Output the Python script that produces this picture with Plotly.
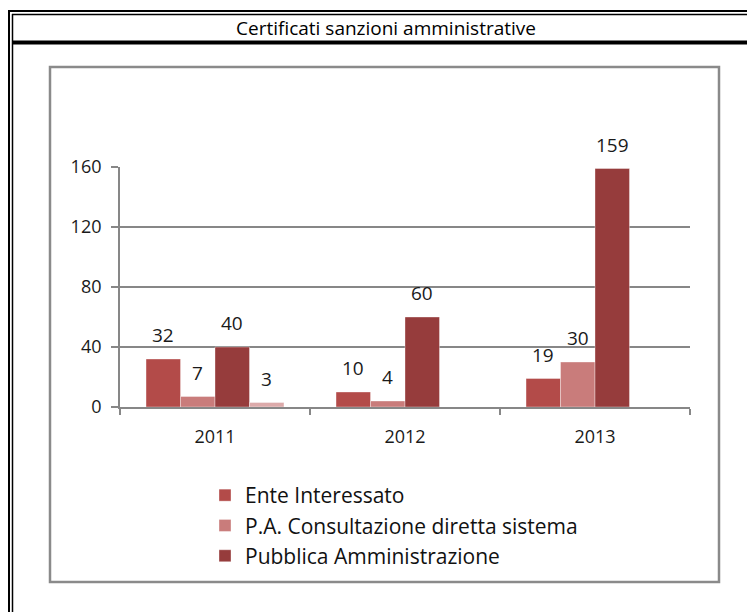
import plotly.graph_objects as go

# ---- data ----
years = ["2011", "2012", "2013"]
series_names = ["Ente Interessato", "P.A. Consultazione diretta sistema", "Pubblica Amministrazione", ""]
ente = [32, 10, 19]
pa_consult = [7, 4, 30]
pubblica = [40, 60, 159]
extra = [3, None, None]
series_values = [ente, pa_consult, pubblica, extra]
colors = ["#b34b49", "#c97c7b", "#963c3c", "#dcaaaa"]
y_ticks = [0, 40, 80, 120, 160]
title_text = "Certificati sanzioni amministrative"

# ---- layout geometry (page pixels; the page body has an 8px margin) ----
OFF = 8
W, H = 755, 612 - OFF
L, R, T, B = 120, 690, 167, 407  # plot area in page coordinates
FONT = "Open Sans"
BARGAP = 0.274


def fx(px):
    return (px - L) / (R - L)


def fy(py):
    return (B - py) / (B - T)


fig = go.Figure()
for k, (name, vals, col) in enumerate(zip(series_names, series_values, colors)):
    fig.add_trace(go.Bar(
        x=years, y=vals, name=name, marker_color=col,
        marker_line=dict(color="rgba(255,255,255,0.6)", width=0.6),
        showlegend=(k < 3),
    ))

# data labels via annotations positioned on category index + group offset
n = len(series_values)
bw = (1 - BARGAP) / n
annotations = []
for k, vals in enumerate(series_values):
    for i, v in enumerate(vals):
        if v is None:
            continue
        annotations.append(dict(
            x=i + (k - (n - 1) / 2) * bw, y=v, xref="x", yref="y",
            text=str(v), showarrow=False, yanchor="bottom", yshift=9,
            font=dict(family=FONT, size=19, color="#1a1a1a"),
        ))

annotations.append(dict(
    x=fx(386), y=fy(28), xref="paper", yref="paper", text=title_text,
    showarrow=False, xanchor="center", yanchor="middle",
    font=dict(family=FONT, size=19, color="#000000"),
))

blk = "#000000"
shapes = [
    dict(type="line", xref="paper", yref="paper", x0=fx(8), x1=fx(780), y0=fy(11), y1=fy(11), line=dict(color=blk, width=2)),
    dict(type="line", xref="paper", yref="paper", x0=fx(12), x1=fx(780), y0=fy(14.5), y1=fy(14.5), line=dict(color=blk, width=1.5)),
    dict(type="line", xref="paper", yref="paper", x0=fx(9), x1=fx(9), y0=fy(10), y1=fy(630), line=dict(color=blk, width=2)),
    dict(type="line", xref="paper", yref="paper", x0=fx(12.5), x1=fx(12.5), y0=fy(14), y1=fy(630), line=dict(color=blk, width=1.5)),
    dict(type="line", xref="paper", yref="paper", x0=fx(12), x1=fx(780), y0=fy(42.5), y1=fy(42.5), line=dict(color=blk, width=4)),
    dict(type="rect", xref="paper", yref="paper", x0=fx(50), x1=fx(719), y0=fy(582), y1=fy(67), line=dict(color="#8a8a8a", width=2.5)),
]

fig.update_layout(
    width=W, height=H,
    margin=dict(l=L - OFF, r=W - (R - OFF), t=T - OFF, b=H - (B - OFF), pad=0),
    paper_bgcolor="white", plot_bgcolor="white",
    barmode="group", bargap=BARGAP, bargroupgap=0,
    font=dict(family=FONT, size=17, color="#1a1a1a"),
    showlegend=True,
    legend=dict(
        x=fx(205), y=fy(475), xanchor="left", yanchor="top",
        orientation="v", font=dict(family=FONT, size=21, color="#111111"),
        bgcolor="rgba(0,0,0,0)", itemclick=False, tracegroupgap=0,
    ),
    annotations=annotations,
    shapes=shapes,
)

fig.update_yaxes(
    range=[0, 160], tickvals=y_ticks, showgrid=True, gridcolor="#878787", gridwidth=1.6,
    showline=True, linecolor="#878787", linewidth=1.8, zeroline=False,
    ticks="outside", ticklen=7, tickcolor="#878787", tickwidth=1.5,
    ticklabelstandoff=6, tickfont=dict(family=FONT, size=18, color="#1a1a1a"),
)
fig.update_xaxes(
    type="category", showline=True, linecolor="#878787", linewidth=1.8,
    ticks="outside", tickson="boundaries", ticklen=6, tickcolor="#878787", tickwidth=1.5,
    ticklabelstandoff=12, tickfont=dict(family=FONT, size=18, color="#1a1a1a"),
    showgrid=False,
)

fig.write_html("out.html")
